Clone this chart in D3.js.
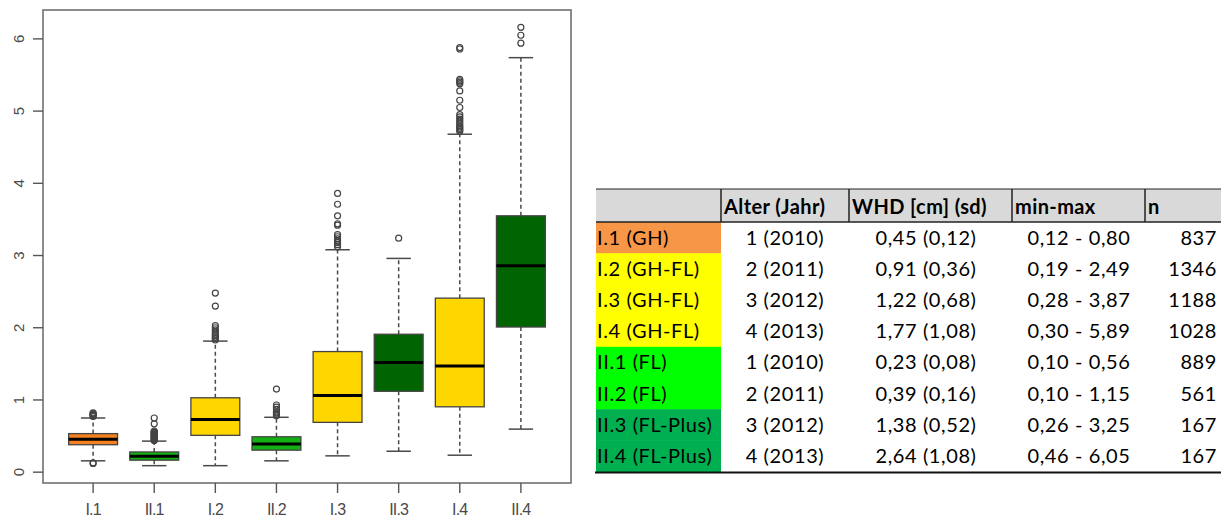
<!DOCTYPE html>
<html>
<head>
<meta charset="utf-8">
<script src="https://cdn.jsdelivr.net/npm/d3@7"></script>
<style>
  html, body { margin: 0; padding: 0; background: #fff; }
  svg { display: block; }
</style>
</head>
<body>
<svg id="chart" width="1227" height="520"></svg>
<script>
// Boxplot groups (plot order)
const groups = ["I.1", "II.1", "I.2", "II.2", "I.3", "II.3", "I.4", "II.4"];
const boxFill = ["#f5801f", "#12b012", "#ffd700", "#12b012", "#ffd700", "#006400", "#ffd700", "#006400"];

// Five-number summaries per group (WHD in cm)
const whiskerLow  = [0.157, 0.09, 0.09, 0.157, 0.226, 0.29, 0.235, 0.596];
const quart1      = [0.38, 0.166, 0.51, 0.305, 0.69, 1.12, 0.905, 2.01];
const medians     = [0.457, 0.22, 0.73, 0.39, 1.06, 1.52, 1.47, 2.86];
const quart3      = [0.534, 0.28, 1.03, 0.49, 1.67, 1.91, 2.41, 3.55];
const whiskerHigh = [0.75, 0.43, 1.815, 0.76, 3.08, 2.96, 4.68, 5.74];

// Outliers per group
const outliers = [
  [0.12, 0.13, 0.77, 0.78, 0.79, 0.80, 0.81, 0.82],
  [0.44, 0.45, 0.46, 0.47, 0.48, 0.49, 0.50, 0.51, 0.52, 0.53, 0.54, 0.55, 0.56, 0.57, 0.67, 0.75],
  [1.83, 1.85, 1.87, 1.89, 1.91, 1.94, 1.97, 2.00, 2.03, 2.30, 2.48],
  [0.78, 0.80, 0.82, 0.84, 0.87, 0.90, 0.93, 1.15],
  [3.12, 3.15, 3.18, 3.20, 3.23, 3.26, 3.29, 3.42, 3.44, 3.55, 3.71, 3.86],
  [3.24],
  [4.72, 4.74, 4.76, 4.78, 4.80, 4.83, 4.86, 4.89, 4.92, 4.95, 5.05, 5.15, 5.28, 5.38, 5.40, 5.42, 5.44, 5.86, 5.88],
  [5.94, 6.05, 6.16]
];
const yTicks = [0, 1, 2, 3, 4, 5, 6];

// Summary table
const tableHeader = ["", "Alter (Jahr)", "WHD [cm] (sd)", "min-max", "n"];
const tableLabels = ["I.1 (GH)", "I.2 (GH-FL)", "I.3 (GH-FL)", "I.4 (GH-FL)", "II.1 (FL)", "II.2 (FL)", "II.3 (FL-Plus)", "II.4 (FL-Plus)"];
const tableColors = ["#f79646", "#ffff00", "#ffff00", "#ffff00", "#00ff00", "#00ff00", "#00b050", "#00b050"];
const ageLabels   = ["1 (2010)", "2 (2011)", "3 (2012)", "4 (2013)", "1 (2010)", "2 (2011)", "3 (2012)", "4 (2013)"];
const whdLabels   = ["0,45 (0,12)", "0,91 (0,36)", "1,22 (0,68)", "1,77 (1,08)", "0,23 (0,08)", "0,39 (0,16)", "1,38 (0,52)", "2,64 (1,08)"];
const rangeLabels = ["0,12 - 0,80", "0,19 - 2,49", "0,28 - 3,87", "0,30 - 5,89", "0,10 - 0,56", "0,10 - 1,15", "0,26 - 3,25", "0,46 - 6,05"];
const nLabels     = ["837", "1346", "1188", "1028", "889", "561", "167", "167"];

const svg = d3.select("#chart");

// ---------- Boxplot ----------
const frame = { left: 43, right: 571, top: 10, bottom: 483 };
const x = d3.scaleLinear().domain([0.18, 8.82]).range([frame.left, frame.right]);
const y = d3.scaleLinear().domain([-0.15, 6.40]).range([frame.bottom, frame.top]);
const boxW = (x(2) - x(1)) * 0.8;
const capW = boxW * 0.5;

const plot = svg.append("g");

groups.forEach((g, i) => {
  const cx = x(i + 1);
  const grp = plot.append("g");
  // dashed whiskers
  grp.append("line")
    .attr("x1", cx).attr("x2", cx)
    .attr("y1", y(quart3[i])).attr("y2", y(whiskerHigh[i]))
    .attr("stroke", "#4a4a4a").attr("stroke-width", 1.5).attr("stroke-dasharray", "4,3");
  grp.append("line")
    .attr("x1", cx).attr("x2", cx)
    .attr("y1", y(quart1[i])).attr("y2", y(whiskerLow[i]))
    .attr("stroke", "#4a4a4a").attr("stroke-width", 1.5).attr("stroke-dasharray", "4,3");
  // staples
  [whiskerHigh[i], whiskerLow[i]].forEach(v => {
    grp.append("line")
      .attr("x1", cx - capW / 2).attr("x2", cx + capW / 2)
      .attr("y1", y(v)).attr("y2", y(v))
      .attr("stroke", "#4a4a4a").attr("stroke-width", 1.5);
  });
  // box
  grp.append("rect")
    .attr("x", cx - boxW / 2).attr("width", boxW)
    .attr("y", y(quart3[i])).attr("height", y(quart1[i]) - y(quart3[i]))
    .attr("fill", boxFill[i]).attr("stroke", "#444").attr("stroke-width", 1.3);
  // median
  grp.append("line")
    .attr("x1", cx - boxW / 2).attr("x2", cx + boxW / 2)
    .attr("y1", y(medians[i])).attr("y2", y(medians[i]))
    .attr("stroke", "#000").attr("stroke-width", 3);
  // outliers
  grp.selectAll("circle").data(outliers[i]).join("circle")
    .attr("cx", cx).attr("cy", d => y(d)).attr("r", 3)
    .attr("fill", "none").attr("stroke", "#444").attr("stroke-width", 1.2);
});

// frame
svg.append("rect")
  .attr("x", frame.left).attr("y", frame.top)
  .attr("width", frame.right - frame.left).attr("height", frame.bottom - frame.top)
  .attr("fill", "none").attr("stroke", "#707070").attr("stroke-width", 1.6);

// y axis
const yAxis = svg.append("g");
yTicks.forEach(t => {
  yAxis.append("line")
    .attr("x1", frame.left - 10).attr("x2", frame.left)
    .attr("y1", y(t)).attr("y2", y(t))
    .attr("stroke", "#555").attr("stroke-width", 1.4);
  yAxis.append("text")
    .attr("transform", `translate(23.5,${y(t)}) rotate(-90)`)
    .attr("text-anchor", "middle")
    .attr("font-family", "Liberation Sans, Arial, sans-serif")
    .attr("font-size", 15)
    .attr("fill", "#4a4a4a")
    .text(t);
});

// x axis
const xAxis = svg.append("g");
groups.forEach((g, i) => {
  xAxis.append("line")
    .attr("x1", x(i + 1)).attr("x2", x(i + 1))
    .attr("y1", frame.bottom).attr("y2", frame.bottom + 10)
    .attr("stroke", "#555").attr("stroke-width", 1.4);
  xAxis.append("text")
    .attr("x", x(i + 1)).attr("y", 515)
    .attr("text-anchor", "middle")
    .attr("font-family", "Liberation Sans Narrow, Arial Narrow, Liberation Sans, sans-serif")
    .attr("font-size", 16)
    .attr("letter-spacing", -0.8)
    .attr("fill", "#4a4a4a")
    .text(g);
});

// ---------- Table ----------
const tbl = svg.append("g").attr("font-family", "Lato, Carlito, Calibri, sans-serif")
  .attr("font-size", 20).attr("letter-spacing", 0.6);
const tLeft = 596, tRight = 1221, headTop = 189, headBottom = 222, rowH = 31.2;
const colEdges = [596, 721, 849, 1012, 1145, 1221];
const rowY = d3.scaleBand().domain(d3.range(tableLabels.length))
  .range([headBottom, headBottom + rowH * tableLabels.length]).padding(0);

// header
tbl.append("rect").attr("x", tLeft).attr("y", headTop)
  .attr("width", tRight - tLeft).attr("height", headBottom - headTop).attr("fill", "#d9d9d9");
tbl.append("line").attr("x1", tLeft).attr("x2", tRight).attr("y1", headTop).attr("y2", headTop)
  .attr("stroke", "#222").attr("stroke-width", 1);
colEdges.slice(1, 5).forEach(cx => {
  tbl.append("line").attr("x1", cx).attr("x2", cx).attr("y1", headTop).attr("y2", headBottom)
    .attr("stroke", "#222").attr("stroke-width", 1.5);
});
tableHeader.forEach((h, j) => {
  if (!h) return;
  tbl.append("text").attr("x", colEdges[j] + 3).attr("y", headTop + 25)
    .attr("font-weight", "bold").attr("letter-spacing", 0.4).attr("fill", "#000").text(h);
});

// label cells
tbl.selectAll("rect.cell").data(tableLabels).join("rect").attr("class", "cell")
  .attr("x", tLeft).attr("y", (d, i) => rowY(i))
  .attr("width", colEdges[1] - tLeft).attr("height", rowY.bandwidth() + 0.5)
  .attr("fill", (d, i) => tableColors[i]);

tbl.append("line").attr("x1", tLeft).attr("x2", tRight).attr("y1", headBottom).attr("y2", headBottom)
  .attr("stroke", "#222").attr("stroke-width", 1.5);

const textBase = i => rowY(i) + rowY.bandwidth() / 2 + 7;
tableLabels.forEach((lab, i) => {
  tbl.append("text").attr("x", tLeft + 1).attr("y", textBase(i)).attr("fill", "#000").text(lab);
  tbl.append("text").attr("x", 785).attr("y", textBase(i)).attr("text-anchor", "middle").text(ageLabels[i]);
  tbl.append("text").attr("x", 926).attr("y", textBase(i)).attr("text-anchor", "middle").text(whdLabels[i]);
  tbl.append("text").attr("x", 1079).attr("y", textBase(i)).attr("text-anchor", "middle").text(rangeLabels[i]);
  tbl.append("text").attr("x", 1217).attr("y", textBase(i)).attr("text-anchor", "end").text(nLabels[i]);
});

const tBottom = headBottom + rowH * tableLabels.length;
tbl.append("line").attr("x1", tLeft - 1).attr("x2", tRight).attr("y1", tBottom + 1).attr("y2", tBottom + 1)
  .attr("stroke", "#111").attr("stroke-width", 2);
</script>
</body>
</html>
